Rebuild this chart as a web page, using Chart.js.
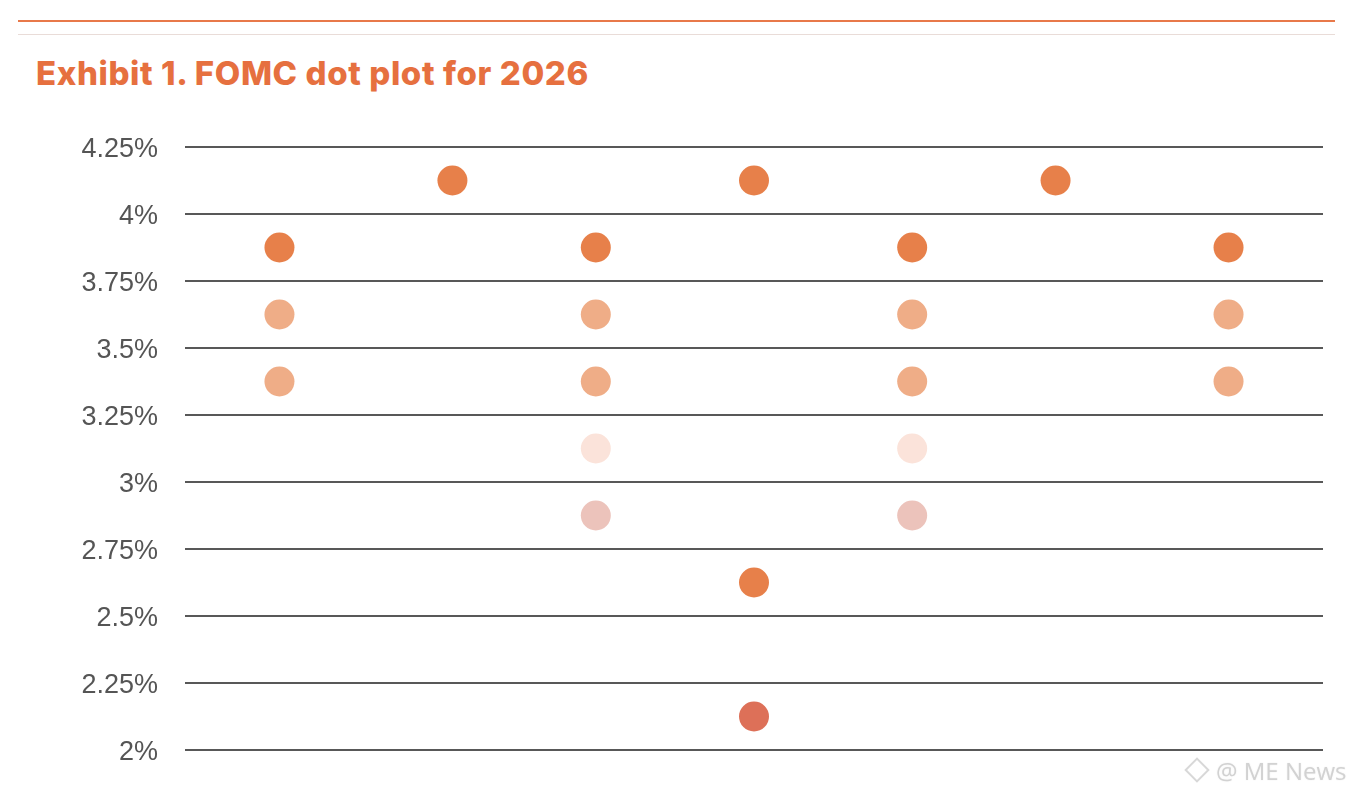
<!DOCTYPE html>
<html>
<head>
<meta charset="utf-8">
<script src="https://cdn.jsdelivr.net/npm/chart.js@4.4.1/dist/chart.umd.min.js"></script>
<style>
  html, body { margin: 0; padding: 0; background: #fff; }
  #wrap { position: relative; width: 1358px; height: 796px; overflow: hidden; }
  #topLine { position: absolute; left: 18px; top: 20px; width: 1317px; height: 2px; background: #e8794a; }
  #subLine { position: absolute; left: 18px; top: 34px; width: 1317px; height: 1px; background: #e9dcd8; }
  #title { position: absolute; left: 36px; top: 53px; font: 800 33px "Inter", "Liberation Sans", sans-serif;
           color: #e6703f; white-space: nowrap; letter-spacing: 0.6px; }
  #mark { position: absolute; left: 1188px; top: 754px; font: 24px "Open Sans", "DejaVu Sans", sans-serif;
          color: #d2d2d2; white-space: nowrap; text-shadow: 0 0 2px #eee; }
  #mark .logo { display: inline-block; width: 14px; height: 14px; border: 2px solid #d8d8d8;
                transform: rotate(45deg); margin-right: 10px; vertical-align: 1px; }
  canvas { position: absolute; left: 0; top: 0; }
</style>
</head>
<body>
<div id="wrap">
  <div id="topLine"></div>
  <div id="subLine"></div>
  <div id="title">Exhibit 1. FOMC dot plot for 2026</div>
  <canvas id="dotChart" width="1358" height="796"></canvas>
  <div id="mark"><span class="logo"></span>@ ME News</div>
</div>
<script>
// Dot plot for 2026 : each dot is one participant's projection

// column positions of the dots (no labels on the x axis in the source)
const darkX = [8.3, 23.5, 36.1, 50, 63.9, 76.5, 91.7, 50];
const darkY = [3.875, 4.125, 3.875, 4.125, 3.875, 4.125, 3.875, 2.625];

const lightX = [8.3, 8.3, 36.1, 36.1, 63.9, 63.9, 91.7, 91.7];
const lightY = [3.625, 3.375, 3.625, 3.375, 3.625, 3.375, 3.625, 3.375];

const paleX = [36.1, 63.9];
const paleY = [3.125, 3.125];

const pinkX = [36.1, 63.9];
const pinkY = [2.875, 2.875];

const redX = [50];
const redY = [2.125];

const yTicks = [2, 2.25, 2.5, 2.75, 3, 3.25, 3.5, 3.75, 4, 4.25];
const yTickLabels = ["2%", "2.25%", "2.5%", "2.75%", "3%", "3.25%", "3.5%", "3.75%", "4%", "4.25%"];

function toPoints(xs, ys) {
    return xs.map((x, i) => ({x: x, y: ys[i]}));
}

function dots(label, xs, ys, color) {
    return {
        label: label,
        data: toPoints(xs, ys),
        backgroundColor: color,
        borderWidth: 0,
        pointRadius: 15,
        pointHoverRadius: 15
    };
}

new Chart("dotChart", {
    type: "scatter",
    data: {
        datasets: [
            dots("dark", darkX, darkY, "#e7804a"),
            dots("light", lightX, lightY, "#efad87"),
            dots("pale", paleX, paleY, "#fbe3da"),
            dots("pink", pinkX, pinkY, "#ecc3bb"),
            dots("red", redX, redY, "#dd7058"),
        ],
    },
    options: {
        responsive: false,
        animation: false,
        layout: {
            padding: {top: 147, right: 35, bottom: 46, left: 0}
        },
        scales: {
            x: {
                type: "linear",
                min: 0,
                max: 100,
                display: false
            },
            y: {
                min: 2,
                max: 4.25,
                afterFit: function (scale) {
                    scale.width = 185;
                },
                afterBuildTicks: function (scale) {
                    scale.ticks = yTicks.map(v => ({value: v}));
                },
                border: {display: false},
                grid: {
                    color: "#585858",
                    lineWidth: 2,
                    drawTicks: false
                },
                ticks: {
                    padding: 27,
                    labelOffset: 3,
                    color: "#555",
                    font: {family: "Liberation Sans", size: 27},
                    callback: function (value) {
                        return yTickLabels[yTicks.indexOf(value)];
                    }
                }
            }
        },
        plugins: {
            legend: {display: false},
            tooltip: {enabled: false}
        }
    }
});
</script>
</body>
</html>
